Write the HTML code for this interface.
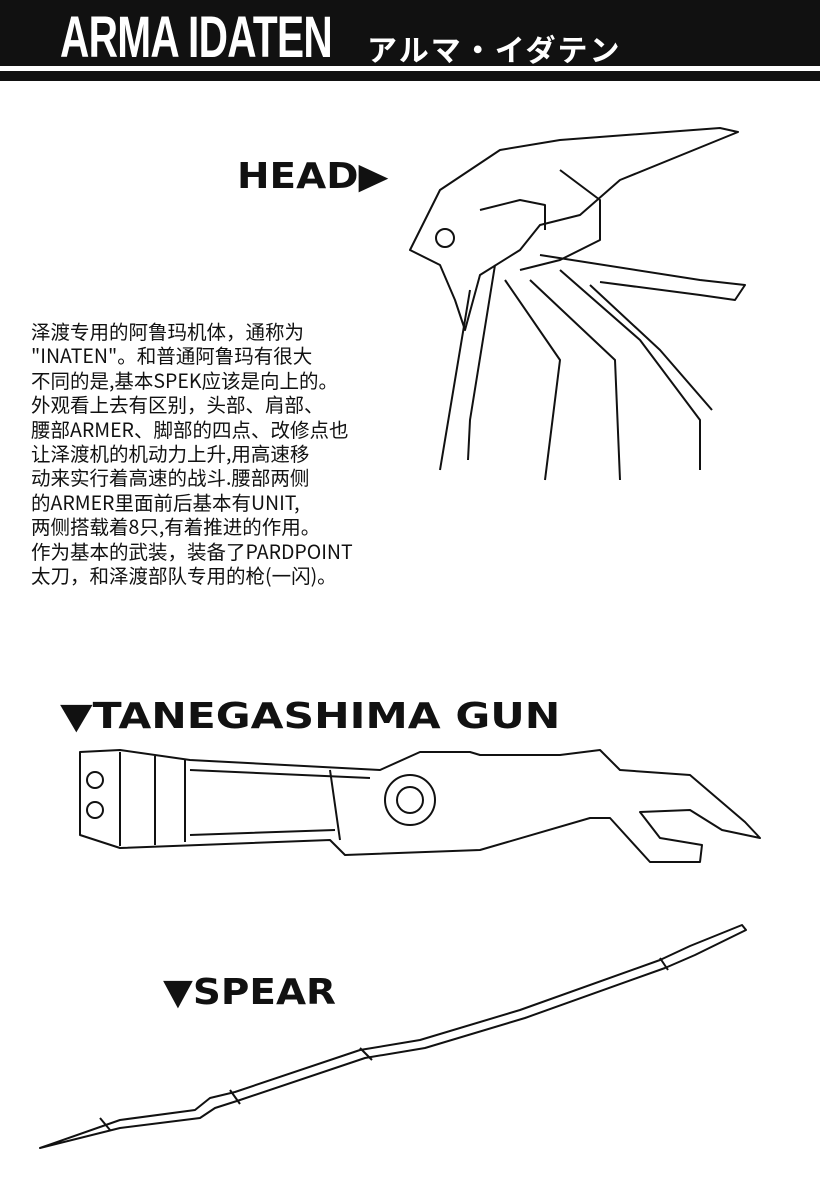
<!DOCTYPE html>
<html><head><meta charset="utf-8"><style>
body{margin:0;width:820px;height:1200px;background:#fff;position:relative;overflow:hidden;font-family:"Liberation Sans","Noto Sans CJK SC",sans-serif}
.hb{position:absolute;left:0;top:0;width:820px;height:66px;background:#111}
.hb2{position:absolute;left:0;top:71px;width:820px;height:10px;background:#111}
.t{position:absolute;left:60px;top:8px;color:#fff;font-weight:bold;font-size:58px;transform:scaleX(0.7);transform-origin:left;letter-spacing:-1px;line-height:60px}
.j{position:absolute;left:367px;top:30px;color:#fff;font-weight:bold;font-size:30px;font-family:"Noto Sans CJK JP",sans-serif;line-height:36px;letter-spacing:2px}
.txt{position:absolute;left:31px;top:319px;font-size:19.5px;line-height:24.4px;color:#111;font-family:"Noto Sans CJK SC",sans-serif;white-space:pre}
.lab{position:absolute;font-size:36px;color:#111;font-family:"DejaVu Sans","Liberation Sans",sans-serif;font-weight:bold;transform-origin:left;line-height:40px}
svg{position:absolute;left:0;top:0}
</style></head><body>
<div class="hb"></div><div class="hb2"></div>
<div class="t">ARMA IDATEN</div>
<div class="j">アルマ・イダテン</div>
<div class="lab" style="left:237px;top:157px;transform:scaleX(1.08)">HEAD▶</div>
<div class="lab" style="left:60px;top:697px;transform:scaleX(1.18)">▼TANEGASHIMA GUN</div>
<div class="lab" style="left:163px;top:973px;transform:scaleX(1.08)">▼SPEAR</div>
<div class="txt">泽渡专用的阿鲁玛机体，通称为
"INATEN"。和普通阿鲁玛有很大
不同的是,基本SPEK应该是向上的。
外观看上去有区别，头部、肩部、
腰部ARMER、脚部的四点、改修点也
让泽渡机的机动力上升,用高速移
动来实行着高速的战斗.腰部两侧
的ARMER里面前后基本有UNIT,
两侧搭载着8只,有着推进的作用。
作为基本的武装，装备了PARDPOINT
太刀，和泽渡部队专用的枪(一闪)。</div>
<svg width="820" height="1200" fill="none" stroke="#111" stroke-width="2" stroke-linejoin="round">
<path d="M410,250 L440,190 L500,150 L560,140 L720,128 L738,132 L620,180 L580,215 L540,225 L520,250 L480,275 L465,330 L455,300 L440,265 Z"/>
<path d="M560,170 L600,200 L600,240 L560,260 L520,270"/>
<path d="M480,210 L520,200 L545,205 L545,230"/>
<path d="M540,255 L700,280 L745,285 L735,300 L700,295 L600,282"/>
<circle cx="445" cy="238" r="9"/>
<path d="M470,290 L440,470 M495,265 L470,420 L468,460 M505,280 L560,360 L545,480 M530,280 L615,360 L620,480 M560,270 L640,340 L700,420 L700,470 M590,285 L660,350 L712,410"/>
<path d="M80,770 L80,835 L120,848 L330,840 L345,855 L480,850 L590,818 L610,818 L650,862 L700,862 L702,845 L660,838 L640,812 L690,810 L722,830 L760,838 L745,822 L690,775 L620,770 L600,750 L560,755 L480,755 L470,752 L420,752 L380,770 L190,760 L120,750 L80,752 Z"/>
<path d="M120,752 L120,846 M155,756 L155,845 M185,760 L185,842 M330,770 L340,840"/>
<circle cx="95" cy="780" r="8"/><circle cx="95" cy="810" r="8"/>
<circle cx="410" cy="800" r="25"/><circle cx="410" cy="800" r="13"/>
<path d="M190,770 L370,778 M190,835 L335,830"/>
<path d="M40,1148 L120,1120 L195,1110 L210,1098 L235,1092 L360,1050 L420,1040 L520,1010 L660,960 L690,946 L742,925 L746,930 L695,955 L665,968 L525,1018 L425,1048 L365,1058 L240,1100 L215,1108 L200,1118 L120,1128 Z"/>
<path d="M100,1118 L110,1130 M230,1090 L240,1104 M360,1048 L372,1060 M660,958 L668,970"/>
</svg>
</body></html>
